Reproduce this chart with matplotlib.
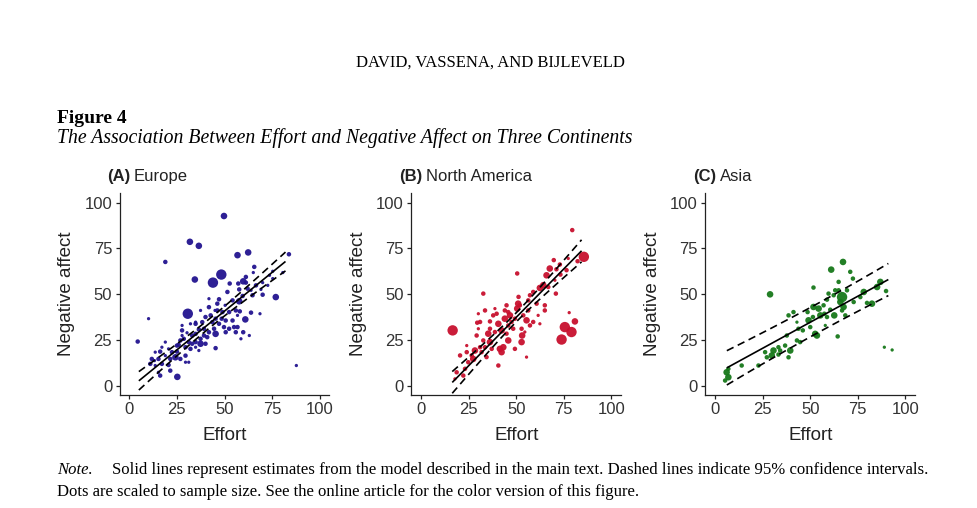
import numpy as np
import matplotlib
matplotlib.use("Agg")
import matplotlib.pyplot as plt

# ---------------- data ----------------
# sample-size levels -> sample sizes
size_levels = {1: 40, 2: 75, 3: 160, 4: 400}

eu_points = [
    (49.7, 92.7, 3), (31.8, 78.6, 3), (36.5, 76.4, 3), (18.9, 67.6, 2), (56.8, 71.3, 3), (62.4, 72.8, 3),
    (83.8, 71.8, 2), (87.7, 11.0, 1), (4.4, 24.1, 2), (10.1, 36.6, 1), (30.7, 39.3, 4), (34.4, 58.0, 3),
    (43.9, 56.3, 4), (48.3, 60.7, 4), (76.9, 48.4, 3), (25.2, 4.8, 3), (65.6, 64.9, 2), (65.1, 61.8, 1),
    (52.7, 55.8, 2), (57.2, 55.8, 2), (59.8, 57.0, 3), (61.2, 56.3, 2), (62.1, 53.0, 2), (57.7, 52.6, 2),
    (51.5, 51.2, 2), (59.5, 49.0, 2), (70.0, 49.7, 2), (69.1, 52.6, 1), (73.6, 60.3, 1), (80.6, 61.8, 1),
    (75.3, 62.5, 1), (47.1, 47.2, 2), (50.3, 43.9, 1), (54.2, 46.6, 2), (57.7, 46.1, 3), (63.9, 39.9, 2),
    (60.9, 36.2, 3), (59.8, 29.2, 2), (63.0, 27.4, 1), (68.6, 39.3, 1), (55.0, 32.0, 2), (52.4, 31.1, 2),
    (49.7, 32.0, 2), (47.1, 33.8, 2), (50.6, 35.6, 2), (54.2, 35.6, 2), (56.8, 32.0, 2), (41.8, 42.9, 2),
    (42.7, 38.4, 2), (40.0, 37.5, 2), (38.3, 34.7, 2), (34.8, 33.8, 2), (32.1, 33.8, 1), (27.7, 32.9, 1),
    (27.7, 30.2, 2), (36.5, 30.7, 2), (39.2, 31.1, 2), (44.5, 31.1, 2), (41.8, 29.2, 2), (45.3, 28.3, 3),
    (40.9, 26.5, 2), (37.4, 25.6, 2), (34.8, 23.8, 2), (37.4, 22.9, 3), (33.0, 22.9, 2), (31.2, 23.8, 2),
    (28.6, 25.6, 2), (26.8, 24.7, 2), (25.9, 22.3, 2), (29.5, 21.0, 2), (32.1, 20.1, 2), (34.8, 21.0, 1),
    (40.0, 22.9, 2), (45.3, 20.5, 2), (25.0, 18.6, 2), (22.4, 18.3, 2), (24.2, 15.5, 3), (26.8, 14.6, 2),
    (29.5, 16.4, 2), (21.5, 14.6, 2), (18.9, 16.4, 1), (16.2, 18.6, 2), (15.3, 14.6, 2), (11.8, 14.6, 2),
    (11.0, 11.9, 2), (13.6, 11.0, 1), (17.1, 11.9, 2), (20.6, 11.3, 2), (21.5, 8.2, 2), (16.2, 5.5, 2),
    (15.3, 7.3, 1), (18.9, 23.8, 1), (29.5, 12.8, 1), (31.2, 12.8, 1), (13.2, 13.7, 1), (48.9, 40.2, 2),
    (46.2, 41.1, 2), (52.4, 40.2, 2), (55.9, 41.1, 2), (58.0, 40.6, 2), (48.5, 36.6, 2), (45.3, 36.6, 2),
    (43.6, 34.7, 2), (37.4, 41.1, 1), (34.8, 34.7, 1), (27.7, 27.4, 1), (30.3, 28.9, 1), (33.0, 27.4, 2),
    (34.8, 28.3, 2), (55.9, 29.2, 2), (58.6, 25.6, 1), (50.6, 29.2, 2), (63.9, 52.1, 1), (61.2, 59.4, 2),
    (41.8, 47.5, 1), (46.2, 44.8, 2), (45.0, 41.1, 1), (66.5, 54.8, 2), (70.0, 56.3, 1), (75.3, 58.5, 1),
    (72.7, 54.8, 1), (64.7, 49.4, 2), (56.8, 38.4, 1), (36.5, 19.2, 1), (17.1, 21.0, 1), (13.6, 18.3, 1),
    (20.6, 20.1, 1), (25.0, 21.9, 2), (39.2, 27.4, 2),
]

na_points = [
    (79.4, 85.0, 2), (85.5, 70.4, 4), (82.2, 68.0, 2), (50.5, 61.3, 2), (16.6, 30.2, 4), (32.7, 50.3, 2),
    (73.8, 25.2, 4), (79.0, 29.3, 4), (75.5, 32.0, 4), (80.8, 35.1, 3), (77.8, 39.9, 1), (69.7, 68.6, 2),
    (67.6, 64.0, 3), (65.9, 60.3, 3), (71.1, 63.6, 2), (73.2, 60.7, 2), (76.4, 63.1, 2), (64.2, 54.9, 3),
    (62.4, 53.4, 3), (66.8, 53.9, 2), (70.8, 50.3, 2), (60.7, 44.8, 2), (65.0, 41.1, 2), (56.3, 46.6, 2),
    (51.0, 44.8, 3), (50.5, 42.1, 3), (44.0, 41.1, 2), (39.7, 39.3, 2), (37.9, 38.4, 2), (33.6, 41.1, 2),
    (36.2, 35.1, 2), (31.0, 34.8, 2), (29.5, 34.4, 2), (40.6, 33.8, 3), (44.0, 36.6, 3), (46.7, 38.4, 3),
    (49.3, 36.6, 2), (53.7, 38.4, 2), (55.4, 35.7, 3), (57.2, 32.9, 2), (62.4, 33.8, 1), (52.8, 31.1, 2),
    (48.4, 31.1, 2), (45.8, 32.9, 2), (42.3, 30.2, 3), (38.8, 29.3, 2), (35.3, 28.4, 3), (36.2, 23.8, 3),
    (32.7, 24.7, 2), (31.0, 21.0, 2), (33.6, 21.0, 2), (37.1, 20.1, 2), (41.4, 20.1, 3), (43.2, 21.0, 3),
    (42.3, 18.3, 3), (45.8, 24.7, 3), (49.3, 20.1, 2), (52.8, 23.8, 3), (53.1, 27.4, 3), (55.4, 15.6, 1),
    (40.6, 11.0, 2), (34.4, 15.6, 2), (31.8, 18.3, 2), (28.3, 19.2, 3), (24.0, 18.3, 2), (20.5, 16.5, 2),
    (27.4, 14.6, 3), (24.8, 12.8, 2), (26.6, 16.5, 2), (23.1, 9.2, 2), (18.7, 7.3, 2), (22.2, 5.5, 2),
    (17.8, 3.7, 1), (29.2, 27.4, 2), (30.1, 31.1, 1), (36.2, 31.1, 2), (44.9, 28.4, 2), (57.2, 49.4, 2),
    (58.9, 51.2, 2), (51.2, 48.5, 2), (51.9, 43.9, 2), (44.9, 43.9, 2), (56.3, 41.1, 2), (58.9, 34.8, 2),
    (54.5, 29.3, 1), (47.5, 34.8, 2), (72.9, 66.2, 2), (70.3, 57.6, 1), (61.5, 38.4, 1), (65.0, 43.9, 2),
    (45.8, 40.2, 2), (38.8, 42.1, 1), (30.1, 39.3, 1), (77.3, 69.5, 1), (24.0, 21.9, 1),
]

as_points = [
    (67.2, 67.6, 3), (61.0, 63.4, 3), (71.0, 62.2, 2), (72.4, 58.5, 2), (64.9, 56.7, 2), (51.7, 53.6, 2),
    (28.9, 49.9, 3), (88.9, 21.0, 1), (93.0, 19.5, 1), (86.8, 56.7, 3), (85.1, 53.9, 3), (89.8, 51.7, 2),
    (82.4, 44.8, 3), (79.8, 45.2, 2), (78.1, 51.2, 3), (76.3, 48.4, 2), (72.8, 45.7, 2), (66.7, 48.4, 4),
    (65.8, 45.7, 3), (67.5, 43.0, 3), (66.7, 41.1, 2), (62.3, 49.4, 2), (59.6, 50.3, 2), (63.1, 52.1, 2),
    (64.9, 52.1, 2), (57.0, 43.9, 2), (54.4, 42.1, 3), (51.7, 43.0, 3), (55.3, 38.4, 3), (51.4, 37.5, 2),
    (49.1, 35.7, 3), (48.6, 40.2, 2), (62.6, 38.4, 3), (57.4, 39.3, 2), (58.8, 37.5, 2), (64.4, 26.9, 2),
    (53.5, 27.4, 3), (52.6, 28.3, 3), (46.1, 30.2, 2), (43.8, 31.1, 2), (43.0, 24.7, 2), (44.7, 23.8, 2),
    (41.2, 40.2, 2), (38.6, 38.4, 2), (37.7, 27.4, 2), (36.8, 21.9, 2), (39.5, 19.2, 3), (38.6, 15.5, 2),
    (33.3, 21.0, 2), (30.7, 19.2, 3), (29.8, 16.5, 3), (33.3, 17.0, 2), (27.2, 15.5, 2), (26.3, 18.3, 2),
    (22.8, 11.0, 2), (14.0, 11.0, 2), (6.1, 7.3, 3), (7.0, 4.6, 3), (5.3, 2.8, 2), (7.0, 9.2, 2),
    (57.9, 32.9, 1), (50.0, 32.0, 2), (60.5, 41.5, 2), (68.4, 38.4, 2), (69.3, 52.1, 2), (58.8, 47.0, 2),
    (43.0, 34.7, 1), (34.2, 19.2, 2),
]

# model estimates: effort range, intercept, slope, centre of CI, CI half-width at centre, CI growth
panel_letters = ["A", "B", "C"]
panel_names = ["Europe", "North America", "Asia"]
panel_colors = ["#22148f", "#c8102e", "#17781a"]
fit_ranges = [(5.0, 82.0), (16.4, 84.3), (6.2, 91.0)]
fit_intercepts = [-1.6, -15.6, 6.2]
fit_slopes = [0.847, 1.059, 0.569]
ci_centres = [43.0, 50.0, 55.0]
ci_halfwidth = [2.5, 2.5, 8.0]
ci_growth = [0.115, 0.16, 0.10]

ticks = [0, 25, 50, 75, 100]

header_text = "DAVID, VASSENA, AND BIJLEVELD"
figure_label = "Figure 4"
figure_title = "The Association Between Effort and Negative Affect on Three Continents"
note_label = "Note."
note_line1 = "Solid lines represent estimates from the model described in the main text. Dashed lines indicate 95% confidence intervals."
note_line2 = "Dots are scaled to sample size. See the online article for the color version of this figure."

# ---------------- figure ----------------
W, H = 978, 508
plt.rcParams["font.family"] = "Liberation Sans"
fig = plt.figure(figsize=(W / 100, H / 100), dpi=100)
fig.patch.set_facecolor("white")

serif = "Liberation Serif"
fig.text(490 / W, 1 - 67 / H, header_text, family=serif, fontsize=12, ha="center", va="baseline")
fig.text(57 / W, 1 - 123 / H, figure_label, family=serif, fontsize=14, fontweight="bold", ha="left", va="baseline")
fig.text(57 / W, 1 - 143 / H, figure_title, family=serif, fontsize=14.2, style="italic", ha="left", va="baseline")
fig.text(57 / W, 1 - 474 / H, note_label, family=serif, fontsize=12, style="italic", ha="left", va="baseline")
fig.text(112 / W, 1 - 474 / H, note_line1, family=serif, fontsize=12.05, ha="left", va="baseline")
fig.text(57 / W, 1 - 496 / H, note_line2, family=serif, fontsize=12, ha="left", va="baseline")

axes_left = [119.8, 411.5, 705.5]
ax_w, ax_bottom, ax_h = 209.5, 394.8, 201.3
points_all = [eu_points, na_points, as_points]

for i in range(3):
    ax = fig.add_axes([axes_left[i] / W, 1 - ax_bottom / H, ax_w / W, ax_h / H])
    pts = points_all[i]
    x = np.array([p[0] for p in pts])
    y = np.array([p[1] for p in pts])
    n = np.array([size_levels[p[2]] for p in pts])
    ax.scatter(x, y, s=n * 0.14, color=panel_colors[i], edgecolors="none", alpha=0.95, zorder=2)

    xs = np.linspace(fit_ranges[i][0], fit_ranges[i][1], 100)
    fit = fit_intercepts[i] + fit_slopes[i] * xs
    hw = np.sqrt(ci_halfwidth[i] ** 2 + (ci_growth[i] * (xs - ci_centres[i])) ** 2)
    ax.plot(xs, fit, color="black", lw=1.2, zorder=3, solid_capstyle="butt")
    ax.plot(xs, fit + hw, color="black", lw=1.2, dashes=(4.5, 2.8), zorder=3)
    ax.plot(xs, fit - hw, color="black", lw=1.2, dashes=(4.5, 2.8), zorder=3)

    ax.set_xlim(-5, 105)
    ax.set_ylim(-5, 105)
    ax.set_xticks(ticks)
    ax.set_yticks(ticks)
    for s in ["top", "right"]:
        ax.spines[s].set_visible(False)
    for s in ["left", "bottom"]:
        ax.spines[s].set_color("#222222")
        ax.spines[s].set_linewidth(0.9)
    ax.tick_params(length=3.2, width=0.9, color="#222222", labelsize=12, labelcolor="#333333", pad=2.3)
    ax.set_xlabel("Effort", fontsize=13.5, va="center", color="#222222")
    ax.xaxis.set_label_coords(0.5, -0.2)
    ax.set_ylabel("Negative affect", fontsize=13.5, va="center", color="#222222")
    ax.yaxis.set_label_coords(-0.254, 0.5)

    t = fig.text((axes_left[i] - 12.5) / W, 1 - 181 / H, f"({panel_letters[i]})", fontsize=12,
                 fontweight="bold", ha="left", va="baseline", color="#222222")
    ax.annotate(panel_names[i], xy=(1, 0), xycoords=t, xytext=(2.5, 0), textcoords="offset points",
                fontsize=12, ha="left", va="bottom", color="#222222", annotation_clip=False)

fig.savefig("out.png", dpi=100, facecolor="white")
